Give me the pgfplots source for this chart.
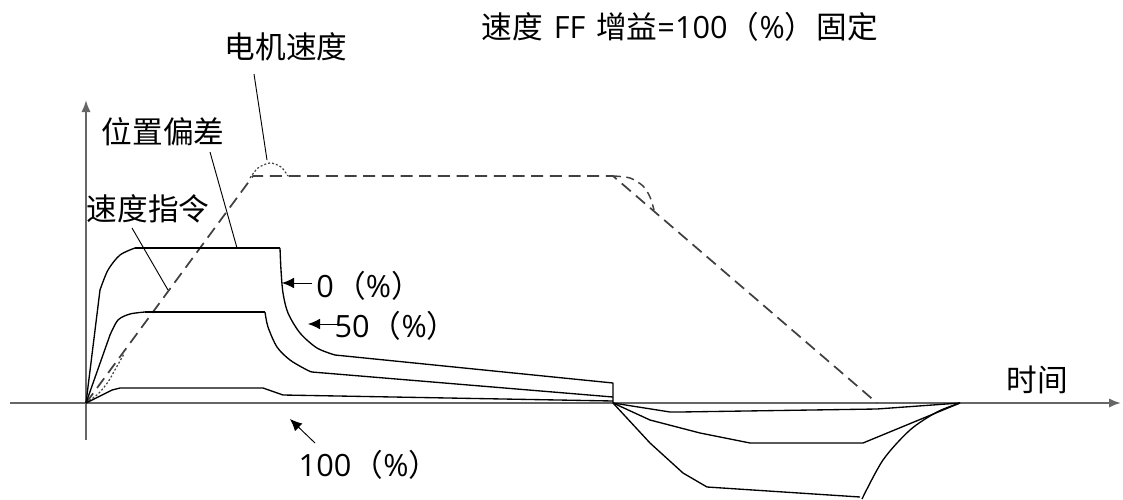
\documentclass[border=0pt]{standalone}
\usepackage{pgfplots}
\pgfplotsset{compat=1.18}
\usepackage{fontspec}
\newfontfamily\cjk{Noto Sans CJK SC}
\newfontfamily\lat{Open Sans}
\usetikzlibrary{arrows.meta}
\begin{document}
\begin{tikzpicture}[
  curve/.style={black,line width=1.0pt},
  lead/.style={black,line width=0.7pt},
  ax/.style={gray!80!black,line width=1.6pt},
  dsh/.style={black!75,line width=1.3pt,dash pattern=on 9pt off 5pt},
  dot/.style={black!75,line width=0.9pt,dash pattern=on 1.5pt off 1.5pt},
  lbl/.style={font=\cjk\fontsize{23}{26}\selectfont,inner sep=0pt}]
\begin{axis}[x=0.75pt,y=0.75pt,xmin=0,xmax=1123,ymin=0,ymax=499,y dir=reverse,
  hide axis,clip=false,
  every axis plot/.append style={line join=round,no markers}]
\addplot[draw=none] coordinates {(0,0) (1123,499)};
% axes
\addplot[ax,-{Latex[length=9pt,width=7pt]}] coordinates {(10,403) (1121,403)};
\addplot[ax,-{Latex[length=9pt,width=7pt]}] coordinates {(86,440) (86,100)};
% speed command (dashed)
\addplot[dsh] coordinates {(86,403) (253,176) (613,176) (877,403)};
% motor speed deviations (dotted / dashed overshoot)
\addplot[dot,smooth] coordinates {(86,403) (98,394) (108,382) (116,368) (124,354)};
\addplot[dot,smooth] coordinates {(250,178) (258,168) (270,163) (281,167) (288,176)};
\addplot[black!75,line width=1.1pt,dash pattern=on 6pt off 4pt,smooth] coordinates {(613,176) (630,178) (643,186) (650,197) (654,210)};
% position deviation, FF 0%
\addplot[curve] coordinates {(86,403) (100,290)};
\addplot[curve,smooth] coordinates {(100,290) (108,270) (120,255) (135,248)};
\addplot[curve] coordinates {(135,248) (280,248)};
\addplot[curve,smooth] coordinates {(280,248) (281,270) (283,293) (288,313) (300,333) (317,348) (335,355)};
\addplot[curve] coordinates {(335,355) (613,383) (613,403)};
% FF 50%
\addplot[curve] coordinates {(86,403) (110,335)};
\addplot[curve,smooth] coordinates {(110,335) (118,320) (130,314) (145,312)};
\addplot[curve] coordinates {(145,312) (265,312)};
\addplot[curve,smooth] coordinates {(265,312) (268,327) (277,347) (290,360) (307,370) (312,372)};
\addplot[curve] coordinates {(312,372) (613,397)};
% FF 100%
\addplot[curve] coordinates {(86,403) (112,390) (120,388) (263,388) (283,395) (613,401)};
% negative side
\addplot[curve] coordinates {(613,403) (670,412) (680,412) (877,409) (960,403)};
\addplot[curve] coordinates {(613,403) (650,420) (700,433) (750,443) (863,443) (960,403)};
\addplot[curve] coordinates {(613,403) (650,443) (683,473) (707,487) (860,497)};
\addplot[curve,smooth] coordinates {(862,499) (883,460) (910,430) (937,412) (960,403)};
% leaders
\addplot[lead] coordinates {(254,74) (267,160)};
\addplot[lead] coordinates {(210,152) (237,248)};
\addplot[lead] coordinates {(132,228) (168,290)};
\addplot[lead,-{Latex[length=9pt,width=8pt]}] coordinates {(312,283) (282,283)};
\addplot[lead,-{Latex[length=9pt,width=8pt]}] coordinates {(338,324) (308,324)};
\addplot[lead,-{Latex[length=9pt,width=8pt]}] coordinates {(315,443) (290,419)};
% texts
\node[lbl] at (axis cs:680,27) {速度\hspace{8pt}{\lat FF}\hspace{8pt}增益{\lat =100}\hspace{1pt}（{\lat\%}）\hspace{1pt}固定};
\node[lbl] at (axis cs:286,47) {电机速度};
\node[lbl] at (axis cs:163,132) {位置偏差};
\node[lbl] at (axis cs:148,209) {速度指令};
\node[lbl] at (axis cs:369,286) {{\lat 0}\hspace{1pt}（{\lat\%}）};
\node[lbl] at (axis cs:396,326) {{\lat 50}\hspace{1pt}（{\lat\%}）};
\node[lbl] at (axis cs:369,465) {{\lat 100}\hspace{1pt}（{\lat\%}）};
\node[lbl] at (axis cs:1037,380) {时间};
\end{axis}
\end{tikzpicture}
\end{document}
